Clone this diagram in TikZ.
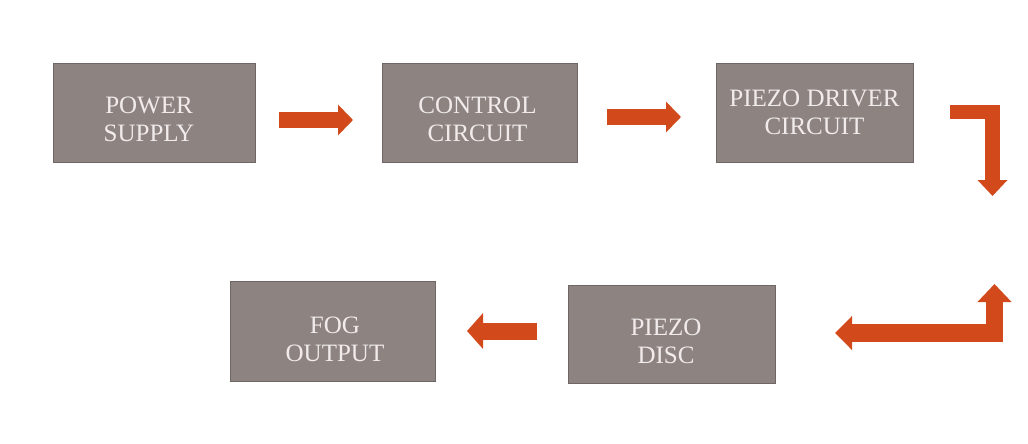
\documentclass[tikz,border=0pt]{standalone}
\usepackage{fontspec}
\setmainfont{Liberation Serif}
\usepackage{tikz}
\usetikzlibrary{arrows.meta}
\definecolor{boxgray}{HTML}{8D8482}
\definecolor{boxline}{HTML}{6F6765}
\definecolor{boxtext}{HTML}{F1ECEB}
\definecolor{flow}{HTML}{D2491B}

\begin{document}
\begin{tikzpicture}[x=1pt,y=-1pt,
  block/.style={draw=boxline, line width=0.6pt, fill=boxgray,
    minimum width=200pt, minimum height=99pt},
  blocktext/.style={text=boxtext, align=center, inner sep=0pt,
    font=\fontsize{25}{28}\selectfont},
  flowarrow/.style={draw=flow, line width=16pt, line join=miter,
    -{Triangle[length=15pt,width=30pt]}}]
  \useasboundingbox (0,0) rectangle (1028,444);
  % top row
  \node[block, minimum width=202pt] (psu) at (154,112.5) {};
  \node[block, minimum width=195pt] (ctrl) at (479.5,112.5) {};
  \node[block, minimum width=197pt] (driver) at (814.5,112.5) {};
  \node[blocktext] (psutext) at ([shift={(-5,6.5)}]psu.center) {POWER\\SUPPLY};
  \node[blocktext] (ctrltext) at ([shift={(-2,6.5)}]ctrl.center) {CONTROL\\CIRCUIT};
  \node[blocktext] (drivertext) at ([shift={(0,0)}]driver.center) {PIEZO DRIVER\\CIRCUIT};
  % bottom row
  \node[block, minimum width=205pt, minimum height=100pt] (fog) at (332.5,331) {};
  \node[block, minimum width=207pt, minimum height=98pt] (disc) at (671.5,334) {};
  \node[blocktext] (fogtext) at ([shift={(2.5,8.5)}]fog.center) {FOG\\OUTPUT};
  \node[blocktext] (disctext) at ([shift={(-5.5,7)}]disc.center) {PIEZO\\DISC};
  % straight arrows
  \coordinate (a1s) at (279,120);  \coordinate (a1e) at (353,120);
  \coordinate (a2s) at (607,117);  \coordinate (a2e) at (681,117);
  \coordinate (a5s) at (537,331);  \coordinate (a5e) at (467,331);
  \draw[flowarrow] (a1s) -- (a1e);
  \draw[flowarrow] (a2s) -- (a2e);
  \draw[flowarrow, line width=17pt, -{Triangle[length=16pt,width=35pt]}] (a5s) -- (a5e);
  % bend down at the right
  \coordinate (a3s) at (950,112);  \coordinate (a3e) at (992.5,196);
  \draw[flowarrow, line width=14.5pt, -{Triangle[length=16pt,width=29pt]}] (a3s) -| (a3e);
  % bend up and left
  \coordinate (a4l) at (835,333);  \coordinate (a4u) at (994.5,284);
  \draw[flowarrow, line width=17.5pt,
    {Triangle[length=17pt,width=33pt]}-{Triangle[length=18pt,width=33pt]}] (a4l) -| (a4u);
\end{tikzpicture}
\end{document}
